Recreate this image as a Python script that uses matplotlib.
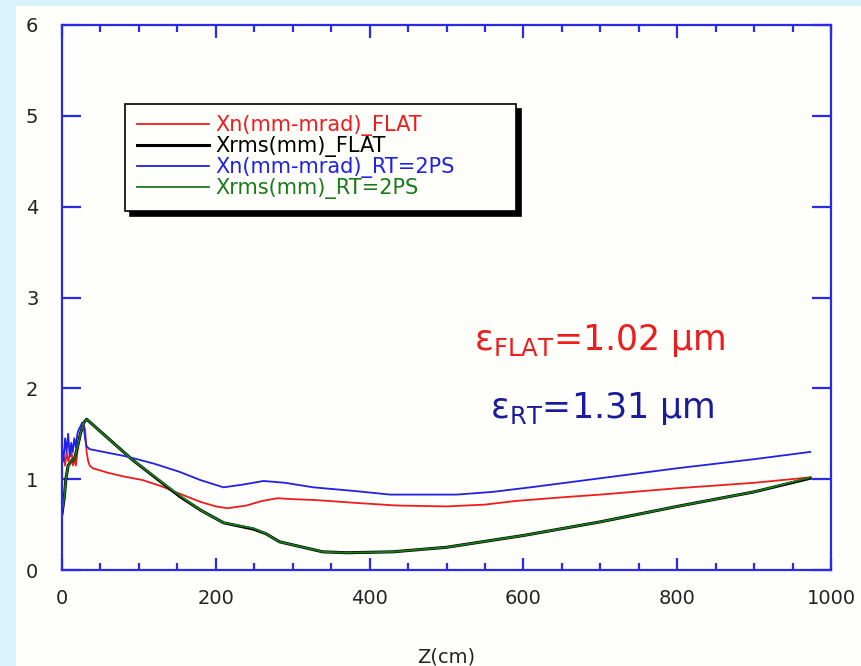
import numpy as np
import matplotlib.pyplot as plt
from matplotlib.patches import Rectangle
from matplotlib.ticker import MultipleLocator

# emittance FLAT (red)
z_red = [0, 2, 4, 6, 8, 10, 12, 14, 16, 18, 20, 22, 24, 26, 28, 30, 32, 34, 36, 40, 60, 80,
         105, 130, 150, 180, 200, 215, 240, 260, 280, 300, 330, 380, 435, 500, 550, 590,
         650, 700, 800, 900, 973]
xn_flat = [1.2, 1.25, 1.15, 1.3, 1.2, 1.25, 1.35, 1.15, 1.22, 1.15, 1.3, 1.45, 1.5, 1.55, 1.6,
           1.55, 1.3, 1.2, 1.15, 1.12, 1.07, 1.03, 0.99, 0.92, 0.85, 0.75, 0.70, 0.68, 0.71,
           0.76, 0.79, 0.78, 0.77, 0.74, 0.71, 0.70, 0.72, 0.76, 0.80, 0.83, 0.90, 0.96, 1.02]
# emittance RT=2PS (blue)
z_blue = [0, 2, 4, 6, 8, 10, 12, 14, 16, 18, 20, 22, 24, 26, 28, 30, 32, 36, 60, 84, 120,
          153, 180, 210, 235, 262, 290, 327, 380, 427, 513, 560, 609, 700, 800, 900, 973]
xn_rt = [1.35, 1.2, 1.45, 1.3, 1.5, 1.25, 1.4, 1.3, 1.45, 1.35, 1.5, 1.55, 1.58, 1.62, 1.6,
         1.45, 1.36, 1.33, 1.29, 1.25, 1.17, 1.08, 0.99, 0.91, 0.94, 0.98, 0.96, 0.91, 0.87,
         0.83, 0.83, 0.86, 0.91, 1.01, 1.12, 1.22, 1.30]
# beam size (black FLAT, green RT)
z_rms = [0, 3, 5, 8, 12, 16, 20, 24, 28, 32, 92, 153, 180, 210, 249, 265, 283, 339, 370,
         430, 500, 600, 700, 800, 900, 973]
xrms_flat = [0.62, 0.8, 1.0, 1.15, 1.2, 1.22, 1.35, 1.5, 1.62, 1.66, 1.21, 0.81, 0.66, 0.52,
             0.45, 0.40, 0.31, 0.20, 0.19, 0.20, 0.25, 0.38, 0.53, 0.70, 0.86, 1.01]
xrms_rt = [0.63, 0.8, 1.0, 1.15, 1.2, 1.22, 1.35, 1.5, 1.62, 1.66, 1.21, 0.82, 0.66, 0.52,
           0.46, 0.40, 0.31, 0.20, 0.19, 0.20, 0.25, 0.38, 0.53, 0.70, 0.86, 1.02]

labels = ["Xn(mm-mrad)_FLAT", "Xrms(mm)_FLAT", "Xn(mm-mrad)_RT=2PS", "Xrms(mm)_RT=2PS"]

fig = plt.figure(figsize=(8.62, 6.66), dpi=100, facecolor='#d9f3fd')
fig.patches.append(Rectangle((16/862, 0), 1, 1 - 6/666, transform=fig.transFigure,
                             facecolor='#fefefb', edgecolor='none', zorder=-10))
ax = fig.add_axes([62/862, 1 - 570/666, 769/862, 545/666])
ax.set_facecolor('#fefefb')

ax.plot(z_red, xn_flat, color='#ee1c1c', lw=1.3, label=labels[0])
ax.plot(z_rms, xrms_flat, color='black', lw=2.2, label=labels[1])
ax.plot(z_blue, xn_rt, color='#2020e6', lw=1.3, label=labels[2])
ax.plot(z_rms, xrms_rt, color='#1a7a1a', lw=1.3, label=labels[3])

ax.set_xlim(0, 1000)
ax.set_ylim(0, 6)
ax.xaxis.set_major_locator(MultipleLocator(200))
ax.xaxis.set_minor_locator(MultipleLocator(50))
ax.yaxis.set_major_locator(MultipleLocator(1))
blue = '#2a2ae8'
for s in ax.spines.values():
    s.set_color(blue)
    s.set_linewidth(1.6)
ax.tick_params(axis='x', which='both', direction='in', top=True, color=blue, width=1.6,
               labelsize=14, pad=14)
ax.tick_params(axis='x', which='major', length=9)
ax.tick_params(axis='x', which='minor', length=5)
ax.tick_params(axis='y', direction='in', right=True, length=14, color=blue, width=1.6,
               labelsize=14, pad=17)
for t in ax.get_xticklabels() + ax.get_yticklabels():
    t.set_color('#222222')
ax.set_xlabel("Z(cm)", fontsize=14, color='#222222', labelpad=28)

leg = ax.legend(loc='upper left', bbox_to_anchor=(0.082, 0.855, 0.508, 0.0), borderaxespad=0,
                mode='expand', fontsize=15, handlelength=3.5, handletextpad=0.3,
                labelspacing=0.0, labelcolor='linecolor', fancybox=False, borderpad=0.55,
                shadow={'color': 'black', 'alpha': 1, 'ox': 3.5, 'oy': -3.5})
leg.get_frame().set_edgecolor('black')
leg.get_frame().set_linewidth(1.2)
leg.get_frame().set_facecolor('#fefefb')
leg.get_frame().set_alpha(1)

ax.text(0.536, 0.404, r'ε$_{\mathrm{FLAT}}$=1.02 μm', transform=ax.transAxes,
        fontsize=25, color='#ee1c1c', va='baseline')
ax.text(0.557, 0.279, r'ε$_{\mathrm{RT}}$=1.31 μm', transform=ax.transAxes,
        fontsize=25, color='#1a1a9c', va='baseline')

fig.savefig('out.png', dpi=100, facecolor=fig.get_facecolor())
